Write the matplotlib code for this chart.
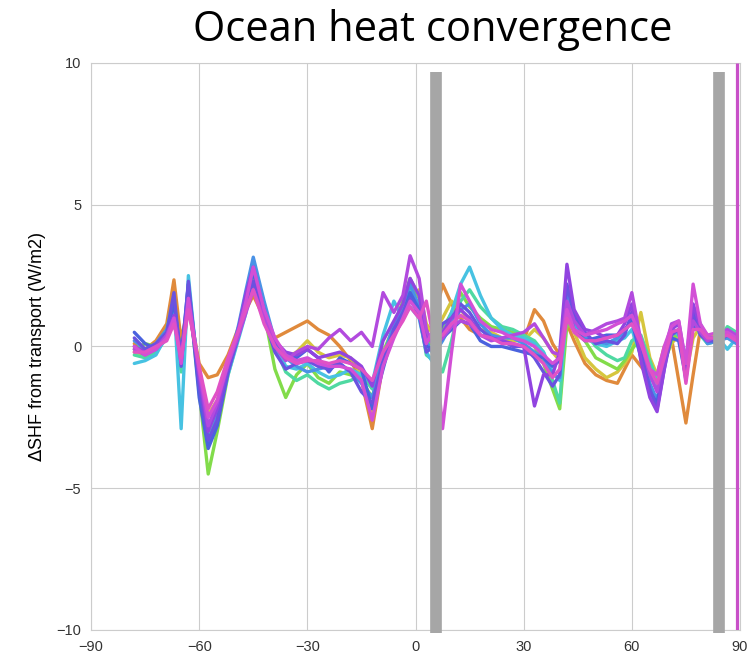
import matplotlib
matplotlib.use('Agg')
import matplotlib.pyplot as plt
import seaborn as sns

# latitude grid (deg N) shared by every ensemble member
lat = [-78, -75, -72, -69, -67, -65, -63, -60, -57.5, -55, -52,
       -49, -47, -45, -42, -39, -36, -33, -30, -27, -24, -21,
       -18, -15, -12, -9, -6, -3.5, -1.5, 1, 3, 5, 7.5,
       10, 12.5, 15, 18, 21, 24, 27, 30, 33, 35.5, 38,
       40, 42, 44, 47, 50, 53, 56, 58, 60, 62.5, 65,
       67, 69, 71, 73, 75, 77, 79, 81, 84, 86.5, 89]

# change in surface heat flux from ocean transport (W/m2), one list per member
shf_m00 = [0.1, -0.1, 0.2, 0.8, 2.35, 0.2, 1.5, -0.6, -1.1, -1.0, -0.3,
           0.7, 1.3, 1.8, 1.0, 0.3, 0.5, 0.7, 0.9, 0.6, 0.4, 0.0,
           -0.5, -1.2, -2.9, -0.6, 0.6, 1.4, 2.0, 1.8, 0.5, 0.8, 2.2,
           1.5, 1.0, 0.6, 0.4, 0.3, 0.2, 0.3, 0.2, 1.3, 0.9, 0.1,
           -0.3, 0.8, 0.2, -0.6, -1.0, -1.2, -1.3, -0.8, -0.3, -0.7, -1.1,
           -1.0, 0.0, 0.3, -1.2, -2.7, -1.0, 0.6, 0.2, 0.5, 0.3, 0.2]
shf_m01 = [-0.2, -0.3, 0.0, 0.4, 1.2, -0.6, 1.4, -0.8, -2.4, -1.9, -0.6,
           0.6, 1.6, 2.2, 1.2, 0.0, -0.4, -0.2, 0.2, -0.2, -0.4, -0.3,
           -0.4, -1.0, -2.5, -0.3, 0.5, 1.2, 1.8, 2.0, 0.8, 0.4, 1.0,
           1.6, 1.3, 0.9, 0.6, 0.5, 0.3, 0.2, 0.2, 0.6, 0.3, -0.2,
           -0.5, 1.0, 0.5, -0.4, -0.8, -1.1, -0.9, -0.6, -0.2, 1.2, -0.4,
           -1.0, -0.5, 0.1, 0.4, -1.0, 0.3, 0.7, 0.4, 0.4, 0.5, 0.4]
shf_m02 = [-0.1, 0.1, 0.0, 0.6, 1.8, -0.8, 2.0, -1.6, -4.5, -3.0, -1.0,
           0.4, 1.4, 2.6, 1.2, -0.8, -1.8, -1.0, -0.6, -1.1, -1.3, -0.9,
           -1.0, -1.2, -1.8, -0.2, 0.7, 1.6, 2.4, 1.7, 0.3, 0.0, 0.6,
           1.2, 1.9, 1.4, 1.0, 0.7, 0.6, 0.5, 0.3, 0.0, -0.6, -1.5,
           -2.2, 0.8, 0.6, 0.2, -0.4, -0.6, -0.8, -0.5, -0.1, 0.3, -0.7,
           -1.4, -0.6, 0.2, 0.5, -0.6, 0.8, 0.5, 0.2, 0.3, 0.6, 0.4]
shf_m03 = [-0.3, -0.4, -0.2, 0.3, 1.5, -0.9, 2.2, -1.2, -3.2, -2.4, -0.9,
           0.6, 1.8, 3.0, 1.5, 0.0, -0.9, -1.2, -1.0, -1.3, -1.5, -1.3,
           -1.2, -1.0, -1.5, -0.5, 0.4, 1.1, 2.0, 1.2, -0.3, -0.5, -0.9,
           0.2, 1.6, 2.0, 1.4, 1.0, 0.7, 0.6, 0.4, 0.2, -0.2, -1.2,
           -2.0, 1.5, 1.0, 0.5, 0.0, -0.3, -0.5, -0.4, 0.2, 0.4, -0.5,
           -1.2, -0.3, 0.4, 0.6, -0.5, 1.0, 0.4, 0.1, 0.2, 0.7, 0.5]
shf_m04 = [-0.6, -0.5, -0.3, 0.4, 1.6, -2.9, 2.5, -1.4, -3.5, -2.6, -1.0,
           0.3, 1.2, 2.9, 1.4, 0.1, -0.7, -0.8, -0.6, -0.9, -1.1, -1.0,
           -0.8, -1.0, -1.3, 0.4, 1.6, 1.0, 1.4, 1.0, -0.2, -0.6, 0.4,
           1.2, 2.2, 2.8, 1.8, 1.0, 0.6, 0.4, 0.3, 0.1, -0.2, -0.9,
           -1.2, 1.2, 0.7, 0.3, 0.1, 0.0, 0.2, 0.3, 0.6, -0.3, -0.8,
           -1.5, -0.5, 0.6, 0.4, -0.4, 1.4, 0.8, 0.3, 0.3, -0.1, 0.3]
shf_m05 = [0.2, -0.1, 0.1, 0.6, 1.5, -0.4, 2.0, -1.0, -3.4, -2.5, -0.8,
           0.8, 2.0, 3.15, 1.6, 0.2, -0.4, -0.7, -0.9, -0.8, -0.7, -0.6,
           -0.9, -1.3, -1.8, -0.4, 0.8, 1.3, 2.2, 1.4, 0.2, -0.3, 0.2,
           0.8, 1.3, 1.5, 0.8, 0.4, 0.3, 0.3, 0.1, -0.2, -0.4, -1.0,
           -1.1, 1.8, 0.9, 0.3, 0.2, 0.1, 0.3, 0.5, 1.0, 0.2, -1.3,
           -1.9, -0.4, 0.6, 0.5, -1.0, 0.9, 0.5, 0.1, 0.2, 0.3, 0.1]
shf_m06 = [0.5, 0.1, -0.1, 0.3, 1.6, -0.4, 2.2, -1.8, -3.6, -2.8, -0.9,
           0.5, 1.8, 2.6, 1.3, 0.0, -0.3, -0.4, -0.1, -0.4, -0.9, -0.4,
           -0.6, -0.8, -2.2, -0.8, 0.6, 1.1, 1.9, 1.3, 0.0, -0.1, 0.3,
           0.6, 0.9, 0.8, 0.2, 0.0, 0.0, -0.1, -0.2, -0.3, -0.4, -0.7,
           -0.5, 1.4, 0.6, 0.2, 0.3, 0.4, 0.4, 0.6, 0.9, -0.4, -1.6,
           -2.0, -0.6, 0.3, 0.2, -1.1, 0.7, 0.6, 0.2, 0.2, 0.4, 0.3]
shf_m07 = [0.3, -0.1, 0.1, 0.5, 1.9, -0.7, 2.3, -1.4, -3.3, -2.6, -0.9,
           0.4, 1.4, 2.3, 1.0, -0.2, -0.8, -0.6, -0.5, -0.7, -0.8, -0.6,
           -0.9, -1.6, -2.0, -0.5, 0.6, 1.2, 1.7, 1.1, -0.2, 0.0, 0.8,
           1.0, 1.5, 1.2, 0.6, 0.3, 0.2, 0.0, 0.0, -0.4, -0.9, -1.4,
           -1.0, 2.2, 1.1, 0.5, 0.1, 0.2, 0.1, 0.4, 1.2, 0.0, -1.5,
           -2.2, -0.8, 0.4, 0.6, -1.2, 1.2, 0.4, 0.2, 0.2, 0.5, 0.2]
shf_m08 = [0.0, -0.2, 0.0, 0.4, 1.1, -0.3, 1.6, -1.1, -3.0, -2.2, -0.7,
           0.7, 1.9, 2.8, 1.2, 0.2, -0.2, -0.3, -0.1, -0.4, -0.3, -0.2,
           -0.4, -0.7, -1.4, 0.2, 0.9, 1.5, 2.4, 1.8, 0.4, 0.1, 0.5,
           1.0, 1.3, 1.0, 0.4, 0.3, 0.2, 0.1, 0.0, -2.1, -1.0, -1.0,
           -0.2, 2.9, 1.3, 0.6, 0.5, 0.3, 0.4, 0.8, 1.5, -0.5, -1.8,
           -2.3, -0.8, 0.6, 0.8, -0.8, 1.5, 0.7, 0.3, 0.3, 0.4, 0.3]
shf_m09 = [-0.1, -0.3, -0.1, 0.4, 1.0, -0.5, 1.5, -0.9, -2.8, -2.0, -0.6,
           0.4, 1.2, 2.0, 1.0, 0.0, -0.5, -0.2, 0.0, -0.1, 0.3, 0.6,
           0.2, 0.5, 0.0, 1.9, 1.2, 1.8, 3.2, 2.4, 0.6, 0.0, 0.3,
           0.7, 0.9, 0.8, 0.4, 0.2, 0.3, 0.4, 0.5, 0.8, 0.3, -0.2,
           -0.3, 1.6, 0.9, 0.4, 0.6, 0.8, 0.9, 1.0, 1.9, 0.2, -1.0,
           -1.6, -0.2, 0.8, 0.9, -0.6, 0.9, 0.5, 0.2, 0.4, 0.6, 0.4]
shf_m10 = [0.0, -0.3, -0.1, 0.3, 1.0, -0.6, 1.7, -0.8, -2.5, -1.9, -0.6,
           0.6, 1.6, 2.8, 1.3, 0.3, -0.3, -0.5, -0.4, -0.6, -0.7, -0.7,
           -0.8, -1.2, -2.6, -0.7, 0.3, 1.0, 1.6, 1.2, 0.1, 0.6, -2.9,
           -0.2, 2.2, 1.6, 0.9, 0.6, 0.5, 0.3, 0.2, 0.0, -0.3, -0.6,
           -0.4, 1.3, 0.6, 0.4, 0.5, 0.6, 0.8, 0.9, 1.1, 0.3, -0.8,
           -1.0, 0.0, 0.7, 0.9, -0.6, 2.2, 0.8, 0.4, 0.5, 0.5, 0.3]
shf_m11 = [-0.2, -0.2, 0.0, 0.2, 0.8, -0.4, 1.3, -0.7, -2.2, -1.6, -0.4,
           0.6, 1.3, 2.0, 0.8, 0.0, -0.4, -0.6, -0.5, -0.5, -0.6, -0.5,
           -0.6, -0.8, -1.2, -0.2, 0.4, 0.9, 1.4, 1.0, 1.6, 0.3, 0.4,
           0.8, 1.1, 0.9, 0.4, 0.3, 0.1, 0.1, 0.0, -0.3, -0.6, -1.1,
           -0.8, 1.0, 0.5, 0.2, 0.2, 0.3, 0.4, 0.6, 0.8, 0.1, -0.8,
           -1.3, -0.4, 0.5, 0.6, -1.3, 0.6, 0.6, 0.3, 0.3, 0.4, 0.2]

members = [shf_m00, shf_m01, shf_m02, shf_m03, shf_m04, shf_m05,
           shf_m06, shf_m07, shf_m08, shf_m09, shf_m10, shf_m11]
colors = ['#e08a3c', '#d6c63e', '#82dc4a', '#4fd9a2', '#47c2e2', '#4a92e6',
          '#4a62de', '#6a52e0', '#9144e0', '#b24ade', '#d24fd6', '#e052c6']

# grey boxes + the magenta marker
box_lats = [5.8, 84.3]
marker_lat = 89.1

sns.set_style('whitegrid')
plt.rcParams['font.family'] = ['Liberation Sans', 'DejaVu Sans']

fig = plt.figure(figsize=(7.48, 6.61), dpi=100)
ax = fig.add_axes([0.1217, 0.047, 0.8676, 0.8577])

for vals, c in zip(members, colors):
    ax.plot(lat, vals, color=c, lw=2.4, solid_joinstyle='round')

for b in box_lats:
    ax.axvline(b, ymin=-0.006, ymax=0.984, color='#a6a6a6', lw=8.4,
               solid_capstyle='butt', clip_on=False, zorder=5)
ax.axvline(marker_lat, color='#c850c8', lw=2.3, solid_capstyle='butt', zorder=5)

ax.set_xlim(-90, 90)
ax.set_ylim(-10, 10)
ax.set_xticks([-90, -60, -30, 0, 30, 60, 90])
ax.set_yticks([-10, -5, 0, 5, 10])
ax.tick_params(labelsize=10.5, colors='#333333')
ax.set_ylabel(r'$\Delta$SHF from transport (W/m2)', fontsize=13, labelpad=6,
              color='black')

fig.text(0.578, 0.955, 'Ocean heat convergence', ha='center', va='center',
         fontsize=30, color='black', family=['Open Sans', 'DejaVu Sans'])

fig.savefig('out.png', dpi=100)
